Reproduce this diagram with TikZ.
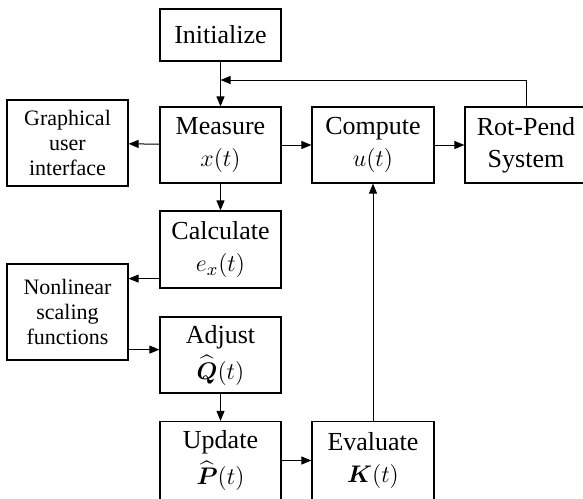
\documentclass[tikz,border=0pt]{standalone}
\usepackage{fontspec}
\setmainfont{Liberation Serif}
\usepackage{amsmath}
\usetikzlibrary{arrows.meta}

\begin{document}
\begin{tikzpicture}[x=0.5pt, y=-0.5pt,
    mainbox/.style={draw, line width=0.6pt, minimum width=60.5pt, minimum height=38pt, align=center, font=\fontsize{13}{16}\selectfont, inner sep=0pt},
    sidebox/.style={draw, line width=0.6pt, minimum width=60.5pt, align=center, font=\fontsize{11}{12.5}\selectfont, inner sep=0pt},
    arr/.style={-{Triangle[length=5pt, width=4pt]}, line width=0.5pt}]
      \useasboundingbox (0,0) rectangle (583,498);
      \node[mainbox, minimum height=26pt] (init) at (220.5,35) {Initialize};
      \node[mainbox] (meas) at (220.5,145) {Measure\\$x(t)$};
      \node[sidebox, minimum height=43pt] (gui) at (67.5,143) {Graphical\\user\\interface};
      \node[mainbox, minimum width=61pt] (comp) at (373,145) {Compute\\$u(t)$};
      \node[mainbox, minimum width=61pt] (rot) at (526,145) {Rot-Pend\\System};
      \node[mainbox, minimum height=38.5pt] (calc) at (220.5,249.5) {Calculate\\$e_x(t)$};
      \node[sidebox, minimum height=48pt] (nonl) at (67.5,312) {Nonlinear\\scaling\\functions};
      \node[mainbox] (adj) at (220.5,355) {Adjust\\[2pt]$\widehat{\boldsymbol{Q}}(t)$};
      \node[mainbox, minimum height=39pt] (upd) at (220.5,460.5) {Update\\[2pt]$\widehat{\boldsymbol{P}}(t)$};
      \node[mainbox, minimum width=61pt, minimum height=39pt] (eval) at (373,460.5) {Evaluate\\$\boldsymbol{K}(t)$};
      % feedback from the plant
      \coordinate (fb) at (220.5,80);
      \draw[arr] (init) -- (meas);
      \draw[arr] (rot.north) |- (fb);
      \draw[arr] (meas) -- (gui);
      \draw[arr] (meas) -- (comp);
      \draw[arr] (comp) -- (rot);
      \draw[arr] (meas) -- (calc);
      \coordinate (c1) at ([yshift=5pt]calc.south west);
      \draw[arr] (c1) -- (c1 -| nonl.east);
      \coordinate (n1) at ([yshift=5.5pt]nonl.south east);
      \draw[arr] (n1) -- (n1 -| adj.west);
      \draw[arr] (adj) -- (upd);
      \draw[arr] (upd) -- (eval);
      \draw[arr] (eval) -- (comp);
    \end{tikzpicture}
\end{document}
